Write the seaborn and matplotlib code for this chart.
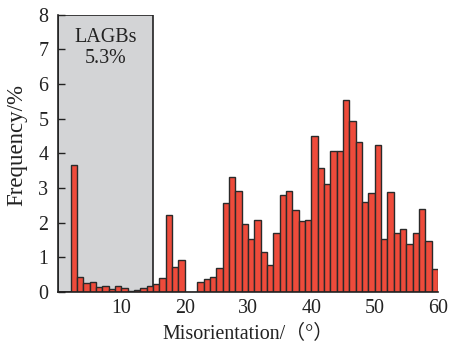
import numpy as np
import pandas as pd
import matplotlib
matplotlib.use("Agg")
import matplotlib.pyplot as plt
import seaborn as sns
from matplotlib.patches import Rectangle

# Bin left edges (degrees) and frequency (%)
bin_left = list(range(0, 60))
frequency = [0, 0, 3.66, 0.42, 0.26, 0.28, 0.13, 0.17, 0.09, 0.17,
             0.11, 0.02, 0.05, 0.12, 0.16, 0.22, 0.39, 2.22, 0.73, 0.92,
             0, 0, 0.29, 0.38, 0.43, 0.68, 2.56, 3.33, 2.92, 1.97,
             1.54, 2.07, 1.15, 0.79, 1.69, 2.79, 2.92, 2.36, 2.04, 2.07,
             4.50, 3.57, 3.11, 4.08, 4.08, 5.55, 4.92, 4.34, 2.59, 2.86,
             4.25, 1.53, 2.88, 1.70, 1.81, 1.39, 1.69, 2.39, 1.47, 0.67]
xticks = [10, 20, 30, 40, 50, 60]
yticks = [0, 1, 2, 3, 4, 5, 6, 7, 8]
lagb_limit = 15
lagb_text = "LAGBs\n5.3%"

df = pd.DataFrame({"center": np.array(bin_left, dtype=float) + 0.5,
                   "freq": np.array(frequency, dtype=float)})

sns.set_style("ticks")
plt.rcParams["font.family"] = ["Liberation Serif", "Noto Sans CJK SC", "DejaVu Sans"]

fig = plt.figure(figsize=(4.5, 3.45), dpi=100)
ax = fig.add_axes([0.129, 0.154, 0.844, 0.803])

ax.add_patch(Rectangle((0, 0), lagb_limit, 8, facecolor="#d3d4d6",
                       edgecolor="#222222", linewidth=1.2, zorder=0))

sns.histplot(data=df, x="center", weights="freq", bins=60, binrange=(0, 60),
             color="#ee4b3b", edgecolor="#2a2a2a", linewidth=1.0, alpha=1,
             ax=ax)

ax.text(7.5, 7.03, lagb_text, ha="center", va="center", fontsize=14.4,
        linespacing=1.15, color="#222222")

ax.set_xlim(0, 60)
ax.set_ylim(0, 8)
ax.set_xticks(xticks)
ax.set_yticks(yticks)
ax.tick_params(axis="x", length=0, labelsize=14.4, pad=5, colors="#222222")
ax.tick_params(axis="y", direction="in", length=5, width=1, labelsize=14.4,
               pad=7, colors="#222222")
ax.set_xlabel("Misorientation/（°）", fontsize=14.4, color="#222222", labelpad=5)
ax.set_ylabel("Frequency/%", fontsize=16.5, color="#222222")
ax.yaxis.set_label_coords(-0.08, 0.53)
sns.despine(ax=ax, top=True, right=True)
for s in ["left", "bottom"]:
    ax.spines[s].set_linewidth(1.2)
    ax.spines[s].set_color("#222222")

fig.savefig("out.png", dpi=100)
